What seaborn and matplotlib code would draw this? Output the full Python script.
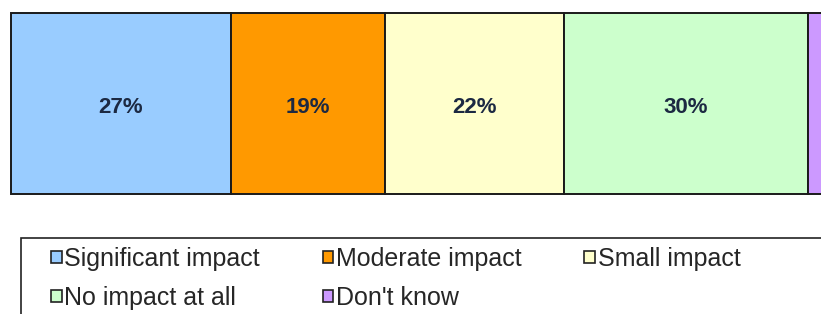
import matplotlib
matplotlib.use("Agg")
import matplotlib.pyplot as plt
from matplotlib.patches import Patch, Rectangle
import seaborn as sns
import pandas as pd

# data
categories = ["Significant impact", "Moderate impact", "Small impact",
              "No impact at all", "Don't know"]
shares = [27, 19, 22, 30, 2]
colors = ["#99CCFF", "#FF9900", "#FFFFCC", "#CCFFCC", "#CC99FF"]

sns.set_theme(style="white")
plt.rcParams["font.family"] = ["Liberation Sans", "DejaVu Sans"]

fig = plt.figure(figsize=(8.21, 3.14), dpi=100)
W, H = 821, 314
# bar spans 0..100 % -> pixel 11..824 (right end runs off the image)
ax = fig.add_axes([11 / W, 1 - 194 / H, 813 / W, 181 / H])

df = pd.DataFrame({"category": categories, "share": shares, "color": colors})
df["left"] = df["share"].cumsum() - df["share"]
df["row"] = "all"

for _, r in df.iterrows():
    sns.barplot(x=[r["share"]], y=[r["row"]], orient="h", ax=ax,
                left=r["left"], color=r["color"], saturation=1,
                width=1.0, edgecolor="#1a1a1a", linewidth=1.4,
                clip_on=False)
    if r["share"] >= 5:
        ax.text(r["left"] + r["share"] / 2, 0.02, f"{r['share']}%",
                ha="center", va="center", fontsize=16, fontweight="bold",
                color="#1c2942")

ax.set_xlim(0, 100)
ax.set_ylim(0.5, -0.5)
ax.set_axis_off()

# legend box runs off the right and bottom edges
fig.add_artist(Rectangle((21 / W, -0.1), 1.0, (314 - 238) / H + 0.1,
                         transform=fig.transFigure, fill=False,
                         edgecolor="#222222", linewidth=1.2))

handles = [Patch(facecolor=c, edgecolor="#222222", linewidth=1.2) for c in colors]
# matplotlib fills legend columns first, reorder so rows read left to right
order = [0, 3, 1, 4, 2]
fig.legend([handles[i] for i in order], [categories[i] for i in order],
           ncol=3, loc="upper left", bbox_to_anchor=(51 / W, 1 - 247 / H),
           frameon=False, fontsize=18, borderpad=0, borderaxespad=0,
           handlelength=0.42, handleheight=0.35, handletextpad=0.12,
           columnspacing=2.5, labelspacing=0.6)

fig.savefig("out.png", dpi=100, facecolor="white")
